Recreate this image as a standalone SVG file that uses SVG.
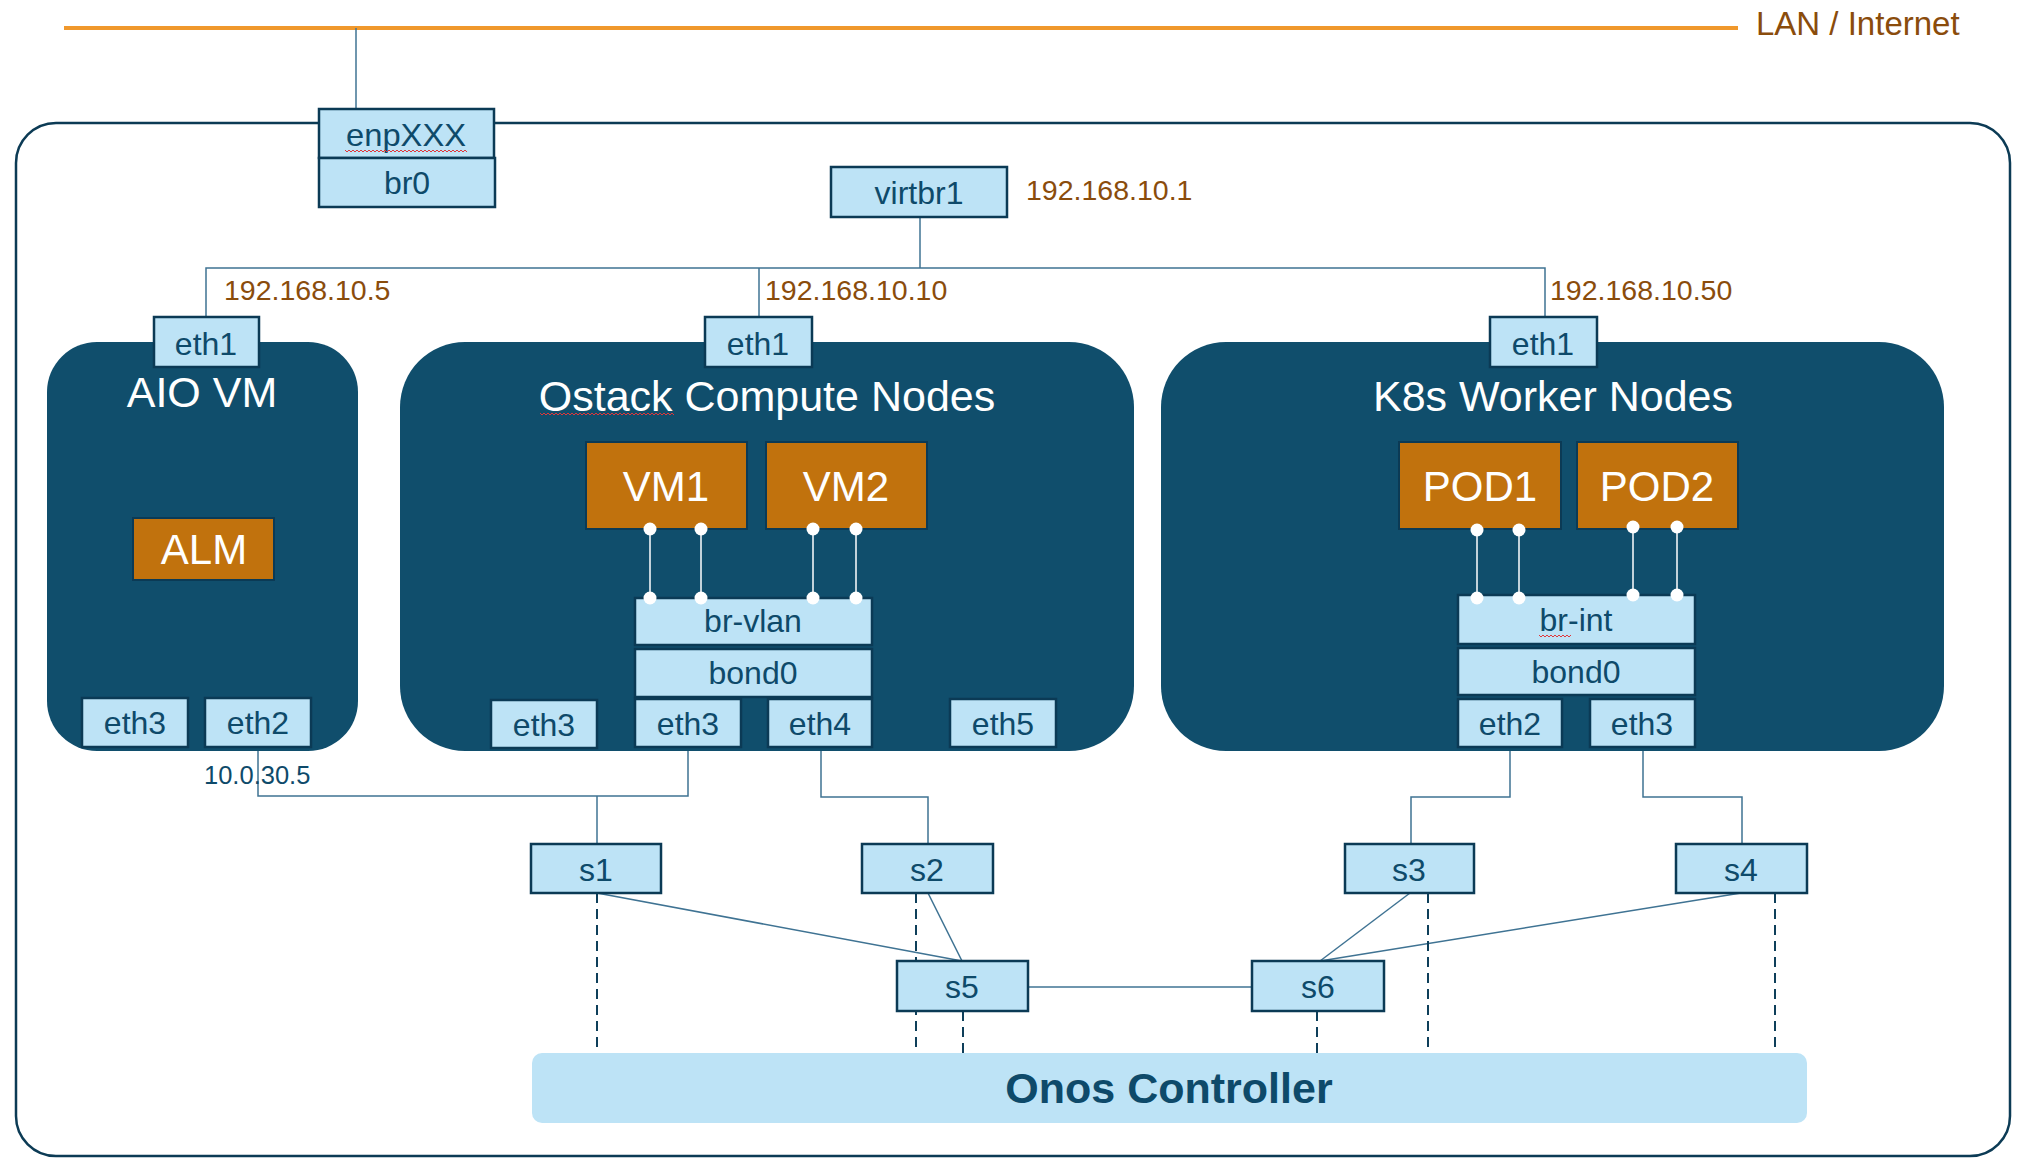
<svg xmlns="http://www.w3.org/2000/svg" width="2039" height="1174" viewBox="0 0 2039 1174">
<style>
text{font-family:"Liberation Sans",Arial,sans-serif}
.lb{fill:#BDE3F6;stroke:#0B3A55;stroke-width:2.5}
.lbt{font-size:32px;fill:#0E4A6A;text-anchor:middle}
.cont{fill:#104E6C}
.title{font-size:43px;fill:#FFFFFF;text-anchor:middle}
.or{fill:#C1720D;stroke:#0B3A55;stroke-width:2}
.ort{font-size:42px;fill:#FFFFFF;text-anchor:middle}
.ip{font-size:28.5px;fill:#8A4C0C}
.ln{fill:none;stroke:#3F7393;stroke-width:1.5}
.dash{fill:none;stroke:#0E3F5A;stroke-width:2;stroke-dasharray:10 6}
.wl{stroke:#FFFFFF;stroke-width:1.5}
.dot{fill:#FFFFFF}
.sq{fill:none;stroke:#E0363A;stroke-width:1}
</style>
<rect x="0" y="0" width="2039" height="1174" fill="#FFFFFF"/>
<g id="host">
<rect x="16" y="123" width="1994" height="1033" rx="40" fill="none" stroke="#0C3B55" stroke-width="2.5"/>
</g>
<g id="lan">
<line x1="64" y1="28" x2="1738" y2="28" stroke="#F0982C" stroke-width="4"/>
<text x="1756" y="35" font-size="33" fill="#8A4C0C">LAN / Internet</text>
</g>
<g id="connectors">
<line class="ln" x1="356" y1="28" x2="356" y2="109" stroke="#1D4E6B"/>
<polyline class="ln" points="206,317 206,268 1545,268 1545,317"/>
<line class="ln" x1="920" y1="217" x2="920" y2="268"/>
<line class="ln" x1="759" y1="268" x2="759" y2="317"/>
<polyline class="ln" points="258,747 258,796 688,796 688,747"/>
<line class="ln" x1="597" y1="796" x2="597" y2="844"/>
<polyline class="ln" points="821,747 821,797 928,797 928,844"/>
<polyline class="ln" points="1510,747 1510,797 1411,797 1411,844"/>
<polyline class="ln" points="1643,747 1643,797 1742,797 1742,844"/>
<line class="ln" x1="597" y1="893" x2="962" y2="961"/>
<line class="ln" x1="928" y1="893" x2="962" y2="961"/>
<line class="ln" x1="1410" y1="893" x2="1320" y2="961"/>
<line class="ln" x1="1741" y1="893" x2="1320" y2="961"/>
<line class="ln" x1="1028" y1="987" x2="1252" y2="987"/>
<line class="dash" x1="597" y1="893" x2="597" y2="1053"/>
<line class="dash" x1="916" y1="893" x2="916" y2="1053"/>
<line class="dash" x1="963" y1="1011" x2="963" y2="1057"/>
<line class="dash" x1="1317" y1="1011" x2="1317" y2="1057"/>
<line class="dash" x1="1428" y1="893" x2="1428" y2="1057"/>
<line class="dash" x1="1775" y1="893" x2="1775" y2="1053"/>
</g>
<g id="ip-labels">
<text class="ip" x="1026" y="200">192.168.10.1</text>
<text class="ip" x="224" y="300">192.168.10.5</text>
<text class="ip" x="765" y="300">192.168.10.10</text>
<text class="ip" x="1550" y="300">192.168.10.50</text>
<text x="204" y="784" font-size="25.5" fill="#0E4A6A">10.0.30.5</text>
</g>
<g id="aio-vm">
<rect class="cont" x="47" y="342" width="311" height="409" rx="50"/>
<text class="title" x="202" y="407">AIO VM</text>
</g>
<g id="ostack">
<rect class="cont" x="400" y="342" width="734" height="409" rx="65"/>
<text class="title" x="767" y="411">Ostack Compute Nodes</text>
<polyline class="sq" points="540,413 542,415 544,413 546,415 548,413 550,415 552,413 554,415 556,413 558,415 560,413 562,415 564,413 566,415 568,413 570,415 572,413 574,415 576,413 578,415 580,413 582,415 584,413 586,415 588,413 590,415 592,413 594,415 596,413 598,415 600,413 602,415 604,413 606,415 608,413 610,415 612,413 614,415 616,413 618,415 620,413 622,415 624,413 626,415 628,413 630,415 632,413 634,415 636,413 638,415 640,413 642,415 644,413 646,415 648,413 650,415 652,413 654,415 656,413 658,415 660,413 662,415 664,413 666,415 668,413 670,415 672,413 674,415"/>
</g>
<g id="k8s">
<rect class="cont" x="1161" y="342" width="783" height="409" rx="65"/>
<text class="title" x="1553" y="411">K8s Worker Nodes</text>
</g>
<g id="enpXXX">
<rect class="lb" x="319" y="109" width="175" height="49"/>
<text class="lbt" x="406" y="146" textLength="120" lengthAdjust="spacingAndGlyphs">enpXXX</text>
<polyline class="sq" points="345,150 347,152 349,150 351,152 353,150 355,152 357,150 359,152 361,150 363,152 365,150 367,152 369,150 371,152 373,150 375,152 377,150 379,152 381,150 383,152 385,150 387,152 389,150 391,152 393,150 395,152 397,150 399,152 401,150 403,152 405,150 407,152 409,150 411,152 413,150 415,152 417,150 419,152 421,150 423,152 425,150 427,152 429,150 431,152 433,150 435,152 437,150 439,152 441,150 443,152 445,150 447,152 449,150 451,152 453,150 455,152 457,150 459,152 461,150 463,152 465,150 467,152"/>
</g>
<g id="br0">
<rect class="lb" x="319" y="158" width="176" height="49"/>
<text class="lbt" x="407" y="194">br0</text>
</g>
<g id="virtbr1">
<rect class="lb" x="831" y="167" width="176" height="50"/>
<text class="lbt" x="919" y="204">virtbr1</text>
</g>
<g id="aio-eth1"><rect class="lb" x="154" y="317" width="105" height="50"/><text class="lbt" x="206" y="355">eth1</text></g>
<g id="aio-alm"><rect class="or" x="133" y="518" width="141" height="62"/><text class="ort" x="204" y="564">ALM</text></g>
<g id="aio-eth3"><rect class="lb" x="82" y="698" width="106" height="49"/><text class="lbt" x="135" y="734">eth3</text></g>
<g id="aio-eth2"><rect class="lb" x="205" y="698" width="106" height="49"/><text class="lbt" x="258" y="734">eth2</text></g>
<g id="os-eth1"><rect class="lb" x="705" y="317" width="107" height="50"/><text class="lbt" x="758" y="355">eth1</text></g>
<g id="os-vm1"><rect class="or" x="586" y="442" width="161" height="87"/><text class="ort" x="666" y="501">VM1</text></g>
<g id="os-vm2"><rect class="or" x="766" y="442" width="161" height="87"/><text class="ort" x="846" y="501">VM2</text></g>
<g id="os-brvlan"><rect class="lb" x="635" y="598" width="237" height="47"/><text class="lbt" x="753" y="632">br-vlan</text></g>
<g id="os-bond0"><rect class="lb" x="635" y="649" width="237" height="48"/><text class="lbt" x="753" y="684">bond0</text></g>
<g id="os-eth3a"><rect class="lb" x="491" y="700" width="106" height="48"/><text class="lbt" x="544" y="736">eth3</text></g>
<g id="os-eth3"><rect class="lb" x="635" y="699" width="106" height="48"/><text class="lbt" x="688" y="735">eth3</text></g>
<g id="os-eth4"><rect class="lb" x="768" y="699" width="104" height="48"/><text class="lbt" x="820" y="735">eth4</text></g>
<g id="os-eth5"><rect class="lb" x="950" y="699" width="106" height="48"/><text class="lbt" x="1003" y="735">eth5</text></g>
<g id="k8s-eth1"><rect class="lb" x="1490" y="317" width="107" height="50"/><text class="lbt" x="1543" y="355">eth1</text></g>
<g id="k8s-pod1"><rect class="or" x="1399" y="442" width="162" height="87"/><text class="ort" x="1480" y="501">POD1</text></g>
<g id="k8s-pod2"><rect class="or" x="1577" y="442" width="161" height="87"/><text class="ort" x="1657" y="501">POD2</text></g>
<g id="k8s-brint"><rect class="lb" x="1458" y="595" width="237" height="49"/><text class="lbt" x="1576" y="631">br-int</text>
<polyline class="sq" points="1539,635 1541,637 1543,635 1545,637 1547,635 1549,637 1551,635 1553,637 1555,635 1557,637 1559,635 1561,637 1563,635 1565,637 1567,635 1569,637 1571,635"/></g>
<g id="k8s-bond0"><rect class="lb" x="1458" y="648" width="237" height="47"/><text class="lbt" x="1576" y="683">bond0</text></g>
<g id="k8s-eth2"><rect class="lb" x="1458" y="699" width="104" height="48"/><text class="lbt" x="1510" y="735">eth2</text></g>
<g id="k8s-eth3"><rect class="lb" x="1590" y="699" width="105" height="48"/><text class="lbt" x="1642" y="735">eth3</text></g>
<g id="internal-links">
<line class="wl" x1="650" y1="529" x2="650" y2="598"/>
<line class="wl" x1="701" y1="529" x2="701" y2="598"/>
<line class="wl" x1="813" y1="529" x2="813" y2="598"/>
<line class="wl" x1="856" y1="529" x2="856" y2="598"/>
<line class="wl" x1="1477" y1="530" x2="1477" y2="598"/>
<line class="wl" x1="1519" y1="530" x2="1519" y2="598"/>
<line class="wl" x1="1633" y1="527" x2="1633" y2="595"/>
<line class="wl" x1="1677" y1="527" x2="1677" y2="595"/>
<circle class="dot" cx="650" cy="529" r="6.5"/><circle class="dot" cx="701" cy="529" r="6.5"/>
<circle class="dot" cx="813" cy="529" r="6.5"/><circle class="dot" cx="856" cy="529" r="6.5"/>
<circle class="dot" cx="650" cy="598" r="6.5"/><circle class="dot" cx="701" cy="598" r="6.5"/>
<circle class="dot" cx="813" cy="598" r="6.5"/><circle class="dot" cx="856" cy="598" r="6.5"/>
<circle class="dot" cx="1477" cy="530" r="6.5"/><circle class="dot" cx="1519" cy="530" r="6.5"/>
<circle class="dot" cx="1633" cy="527" r="6.5"/><circle class="dot" cx="1677" cy="527" r="6.5"/>
<circle class="dot" cx="1477" cy="598" r="6.5"/><circle class="dot" cx="1519" cy="598" r="6.5"/>
<circle class="dot" cx="1633" cy="595" r="6.5"/><circle class="dot" cx="1677" cy="595" r="6.5"/>
</g>
<g id="s1"><rect class="lb" x="531" y="844" width="130" height="49"/><text class="lbt" x="596" y="881">s1</text></g>
<g id="s2"><rect class="lb" x="862" y="844" width="131" height="49"/><text class="lbt" x="927" y="881">s2</text></g>
<g id="s3"><rect class="lb" x="1345" y="844" width="129" height="49"/><text class="lbt" x="1409" y="881">s3</text></g>
<g id="s4"><rect class="lb" x="1676" y="844" width="131" height="49"/><text class="lbt" x="1741" y="881">s4</text></g>
<g id="s5"><rect class="lb" x="897" y="961" width="131" height="50"/><text class="lbt" x="962" y="998">s5</text></g>
<g id="s6"><rect class="lb" x="1252" y="961" width="132" height="50"/><text class="lbt" x="1318" y="998">s6</text></g>
<g id="onos">
<rect x="532" y="1053" width="1275" height="70" rx="10" fill="#BDE3F6"/>
<text x="1169" y="1103" font-size="43" font-weight="bold" fill="#0E4A6A" text-anchor="middle">Onos Controller</text>
</g>
</svg>
